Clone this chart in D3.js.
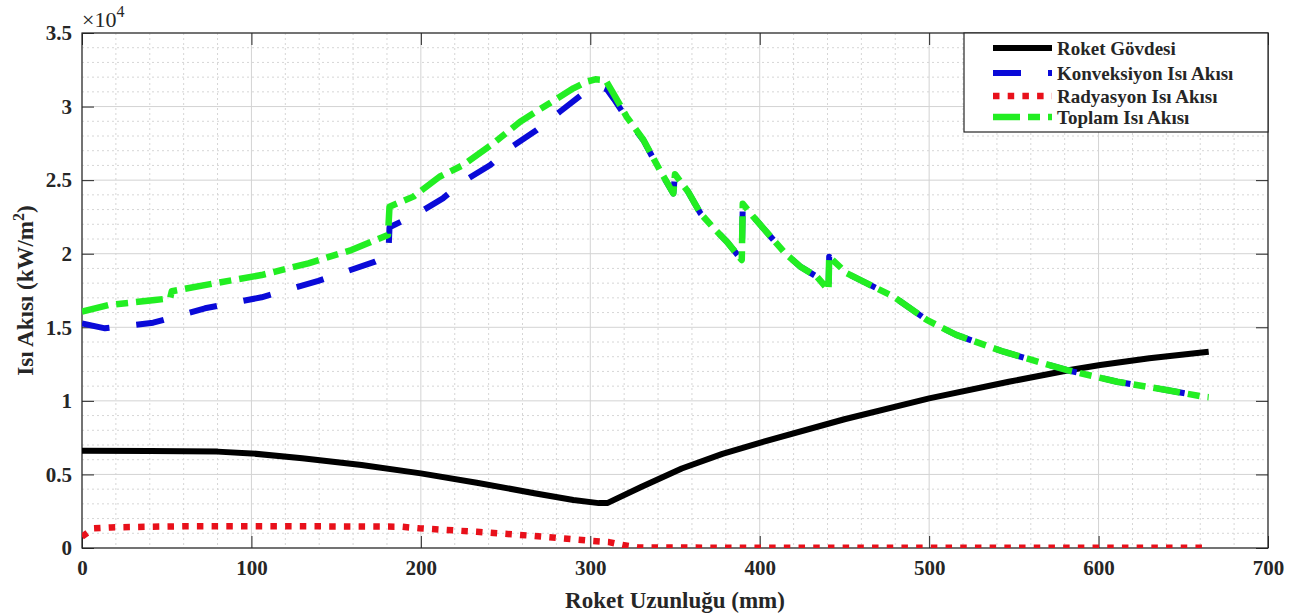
<!DOCTYPE html>
<head>
  <meta charset="utf-8">
  <script src="https://d3js.org/d3.v7.min.js"></script>
  <style>
    body { margin: 0; background: #fff; }
    text { font-family: "Liberation Serif", "Times New Roman", serif; font-weight: bold; fill: #262626; }
    .tick line { stroke: #262626; }
    .grid-major line { stroke: #d3d3d3; stroke-width: 1; }
    .grid-minor line { stroke: #d6d6d6; stroke-width: 1; stroke-dasharray: 2,3; }
    .series { fill: none; }
  </style>
</head>
<body>
<div id="chart"></div>
<script>
// values (x in mm, y in kW/m^2)
var bodyX = [0, 40, 80, 100, 130, 165, 200, 233, 267, 290, 305, 310, 330, 354, 378, 400, 450, 500, 547, 583, 601, 630, 665];
var bodyY = [6610, 6600, 6550, 6430, 6100, 5640, 5070, 4440, 3720, 3260, 3050, 3050, 4150, 5400, 6400, 7150, 8750, 10170, 11300, 12100, 12440, 12900, 13340];

var convX = [0, 13.6, 42, 72.6, 106, 139.5, 173, 180.8, 181.5, 196.6, 213, 225, 241, 253.6, 268.4, 282, 296, 302, 306, 310, 314, 321.5, 331.4, 341, 349,
             350, 357.8, 365, 372.7, 380.6, 389.4, 390, 396.3, 415, 424, 433.7, 440.6, 441, 451.4, 463, 479, 498.6, 516, 544, 581, 611, 640, 662, 665];
var convY = [15270, 14930, 15310, 16290, 17040, 18150, 19460, 19850, 21800, 22630, 23760, 24900, 26030, 27270, 28400, 29650, 30900, 31250, 31350, 31150, 30500, 29200, 27700, 25650, 24100,
             25400, 24200, 22750, 21750, 20820, 19570, 23400, 22500, 20030, 19120, 18440, 17530, 19800, 18670, 18000, 17080, 15500, 14480, 13340, 12100, 11300, 10740, 10280, 10250];

var radX = [0, 7, 17, 60, 120, 188, 199, 233, 267, 301, 311, 319, 328, 334, 400, 500, 600, 665];
var radY = [770, 1340, 1400, 1480, 1480, 1450, 1340, 1100, 820, 480, 400, 200, 50, 30, 20, 10, 10, 10];

var totX = [0, 15.5, 43, 52, 53, 78.5, 106, 133.6, 159, 180.6, 181.5, 195.6, 211, 225, 242.8, 258.6, 274.3, 290, 298, 303, 309, 313.6, 321.5, 331.4, 341, 349,
            350, 357.8, 365, 372.7, 380.6, 389.4, 390, 396.3, 415, 424, 433.7, 440.6, 441, 451.4, 463, 479, 498.6, 516, 544, 581, 611, 640, 662, 665];
var totY = [16060, 16510, 16850, 16970, 17450, 17990, 18550, 19350, 20250, 21270, 23200, 23880, 25230, 26030, 27500, 28970, 30110, 31240, 31700, 31850, 31800, 30900, 29300, 27730, 25690, 24100,
            25400, 24200, 22750, 21750, 20820, 19570, 23400, 22500, 20030, 19120, 18440, 17530, 19800, 18670, 18000, 17080, 15500, 14480, 13340, 12100, 11300, 10740, 10280, 10250];

var xTicks = [0, 100, 200, 300, 400, 500, 600, 700];
var yTicks = [0, 5000, 10000, 15000, 20000, 25000, 30000, 35000];
var legendNames = ["Roket Gövdesi", "Konveksiyon Isı Akısı", "Radyasyon Isı Akısı", "Toplam Isı Akısı"];

var width = 1298, height = 615;
var pLeft = 82, pRight = 1268, pTop = 33, pBottom = 548;

var svg = d3.select("#chart").append("svg")
  .attr("width", width)
  .attr("height", height);

var x = d3.scaleLinear().domain([0, 700]).range([pLeft, pRight]);
var y = d3.scaleLinear().domain([0, 35000]).range([pBottom, pTop]);

// minor grid
var xMinor = d3.range(0, 701, 20).filter(function(d) { return d % 100 != 0; });
var yMinor = d3.range(0, 35001, 1000).filter(function(d) { return d % 5000 != 0; });

svg.append("g").attr("class", "grid-minor")
  .selectAll("line").data(xMinor).enter().append("line")
  .attr("x1", function(d) { return x(d); }).attr("x2", function(d) { return x(d); })
  .attr("y1", pTop).attr("y2", pBottom);
svg.append("g").attr("class", "grid-minor")
  .selectAll("line").data(yMinor).enter().append("line")
  .attr("y1", function(d) { return y(d); }).attr("y2", function(d) { return y(d); })
  .attr("x1", pLeft).attr("x2", pRight);

// major grid
svg.append("g").attr("class", "grid-major")
  .selectAll("line").data(xTicks).enter().append("line")
  .attr("x1", function(d) { return x(d); }).attr("x2", function(d) { return x(d); })
  .attr("y1", pTop).attr("y2", pBottom);
svg.append("g").attr("class", "grid-major")
  .selectAll("line").data(yTicks).enter().append("line")
  .attr("y1", function(d) { return y(d); }).attr("y2", function(d) { return y(d); })
  .attr("x1", pLeft).attr("x2", pRight);

// axes, ticks pointing inward on all four sides
var tl = 12;
var gx = svg.append("g").attr("transform", "translate(0," + pBottom + ")")
  .call(d3.axisBottom(x).tickValues(xTicks).tickSize(-tl).tickPadding(8).tickFormat(d3.format("d")));
var gy = svg.append("g").attr("transform", "translate(" + pLeft + ",0)")
  .call(d3.axisLeft(y).tickValues(yTicks).tickSize(-tl).tickPadding(10).tickFormat(function(d) { return d / 1e4; }));
var gt = svg.append("g").attr("transform", "translate(0," + pTop + ")")
  .call(d3.axisTop(x).tickValues(xTicks).tickSize(-tl).tickFormat(""));
var gr = svg.append("g").attr("transform", "translate(" + pRight + ",0)")
  .call(d3.axisRight(y).tickValues(yTicks).tickSize(-tl).tickFormat(""));
[gx, gy, gt, gr].forEach(function(g) { g.select(".domain").remove(); });
gx.selectAll("text").style("font-size", "21px").attr("dy", "0.9em").style("fill", "#262626");
gy.selectAll("text").style("font-size", "21px").style("fill", "#262626");

svg.append("rect")
  .attr("x", pLeft).attr("y", pTop)
  .attr("width", pRight - pLeft).attr("height", pBottom - pTop)
  .attr("fill", "none").attr("stroke", "#262626").attr("stroke-width", 1.2);

// clip
svg.append("clipPath").attr("id", "plot-clip").append("rect")
  .attr("x", pLeft).attr("y", pTop).attr("width", pRight - pLeft).attr("height", pBottom - pTop);

var line = d3.line()
  .x(function(d) { return x(d[0]); })
  .y(function(d) { return y(d[1]); });

function pairs(xs, ys) {
  return xs.map(function(v, i) { return [v, ys[i]]; });
}

var styles = [
  { color: "#000000", width: 6, dash: null },
  { color: "#0a0ad8", width: 6, dash: "28,27" },
  { color: "#e8101a", width: 6.5, dash: "6.5,8.2" },
  { color: "#22ee22", width: 6.5, dash: "27,8,12,8" }
];
var seriesData = [pairs(bodyX, bodyY), pairs(convX, convY), pairs(radX, radY), pairs(totX, totY)];

var plot = svg.append("g").attr("clip-path", "url(#plot-clip)");
seriesData.forEach(function(d, i) {
  plot.append("path")
    .datum(d)
    .attr("class", "series")
    .attr("d", line)
    .attr("stroke", styles[i].color)
    .attr("stroke-width", styles[i].width)
    .attr("stroke-dasharray", styles[i].dash)
    .attr("stroke-linejoin", "round");
});

// exponent label
var ex = svg.append("text").attr("x", 82).attr("y", 27).style("font-size", "22px").style("font-weight", "normal");
ex.append("tspan").text("×10");
ex.append("tspan").attr("dy", -10).style("font-size", "16px").text("4");

// axis titles
svg.append("text")
  .attr("x", (pLeft + pRight) / 2).attr("y", 608)
  .attr("text-anchor", "middle")
  .style("font-size", "23px")
  .text("Roket Uzunluğu (mm)");

var yl = svg.append("text")
  .attr("transform", "translate(33," + ((pTop + pBottom) / 2) + ") rotate(-90)")
  .attr("text-anchor", "middle")
  .style("font-size", "23px");
yl.append("tspan").text("Isı Akısı (kW/m");
yl.append("tspan").attr("dy", -9).style("font-size", "16px").text("2");
yl.append("tspan").attr("dy", 9).text(")");

// legend
var lg = svg.append("g");
lg.append("rect")
  .attr("x", 964).attr("y", pTop)
  .attr("width", pRight - 964).attr("height", 99)
  .attr("fill", "#fff").attr("stroke", "#262626").attr("stroke-width", 1.2);
var rowY = [48, 73, 96, 117];
legendNames.forEach(function(name, i) {
  lg.append("line")
    .attr("x1", 993).attr("x2", 1052)
    .attr("y1", rowY[i]).attr("y2", rowY[i])
    .attr("stroke", styles[i].color)
    .attr("stroke-width", styles[i].width)
    .attr("stroke-dasharray", styles[i].dash);
  lg.append("text")
    .attr("x", 1057).attr("y", rowY[i])
    .attr("dy", "0.35em")
    .style("font-size", "19px")
    .text(name);
});
</script>
</body>
